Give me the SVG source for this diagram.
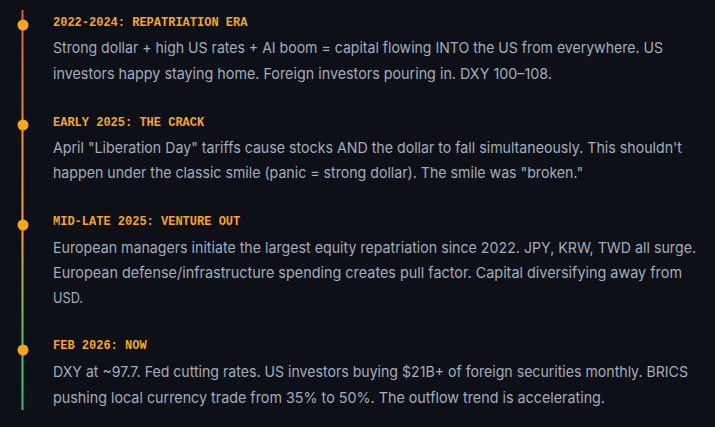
<svg xmlns="http://www.w3.org/2000/svg" width="715" height="427" viewBox="0 0 715 427">
<defs>
<linearGradient id="tl" x1="0" y1="10" x2="0" y2="410" gradientUnits="userSpaceOnUse">
<stop offset="0" stop-color="#e0524f"/>
<stop offset="0.3" stop-color="#f08a3a"/>
<stop offset="0.55" stop-color="#f2a52a"/>
<stop offset="0.75" stop-color="#7fb85a"/>
<stop offset="1" stop-color="#2fbf86"/>
</linearGradient>
<style>
.t{font-family:"Liberation Mono","DejaVu Sans Mono",monospace;font-weight:bold;font-size:12px;fill:#f5a524}
.b{font-family:"Inter","Liberation Sans",sans-serif;font-size:15px;fill:#a3acbc}
.d{fill:#f5a524}
</style>
</defs>
<rect width="715" height="427" fill="#0d1017"/>
<g id="connectors">
<line x1="22.5" y1="10" x2="22.5" y2="410" stroke="url(#tl)" stroke-width="2"/>
</g>
<g id="era1">
<circle class="d" cx="23" cy="25" r="5.5"/>
<text class="t" x="53" y="26">2022-2024: REPATRIATION ERA</text>
<text class="b" x="53" y="53" textLength="610" lengthAdjust="spacingAndGlyphs">Strong dollar + high US rates + AI boom = capital flowing INTO the US from everywhere. US</text>
<text class="b" x="53" y="79" textLength="499" lengthAdjust="spacingAndGlyphs">investors happy staying home. Foreign investors pouring in. DXY 100–108.</text>
</g>
<g id="era2">
<circle class="d" cx="23" cy="125" r="5.5"/>
<text class="t" x="53" y="126">EARLY 2025: THE CRACK</text>
<text class="b" x="53" y="153" textLength="629" lengthAdjust="spacingAndGlyphs">April "Liberation Day" tariffs cause stocks AND the dollar to fall simultaneously. This shouldn't</text>
<text class="b" x="53" y="178" textLength="530" lengthAdjust="spacingAndGlyphs">happen under the classic smile (panic = strong dollar). The smile was "broken."</text>
</g>
<g id="era3">
<circle class="d" cx="23" cy="225" r="5.5"/>
<text class="t" x="53" y="225">MID-LATE 2025: VENTURE OUT</text>
<text class="b" x="53" y="253" textLength="643" lengthAdjust="spacingAndGlyphs">European managers initiate the largest equity repatriation since 2022. JPY, KRW, TWD all surge.</text>
<text class="b" x="53" y="278" textLength="629" lengthAdjust="spacingAndGlyphs">European defense/infrastructure spending creates pull factor. Capital diversifying away from</text>
<text class="b" x="53" y="303" textLength="30" lengthAdjust="spacingAndGlyphs">USD.</text>
</g>
<g id="era4">
<circle class="d" cx="23" cy="350" r="5.5"/>
<text class="t" x="53" y="349">FEB 2026: NOW</text>
<text class="b" x="53" y="377" textLength="635" lengthAdjust="spacingAndGlyphs">DXY at ~97.7. Fed cutting rates. US investors buying $21B+ of foreign securities monthly. BRICS</text>
<text class="b" x="53" y="403" textLength="552" lengthAdjust="spacingAndGlyphs">pushing local currency trade from 35% to 50%. The outflow trend is accelerating.</text>
</g>
</svg>
